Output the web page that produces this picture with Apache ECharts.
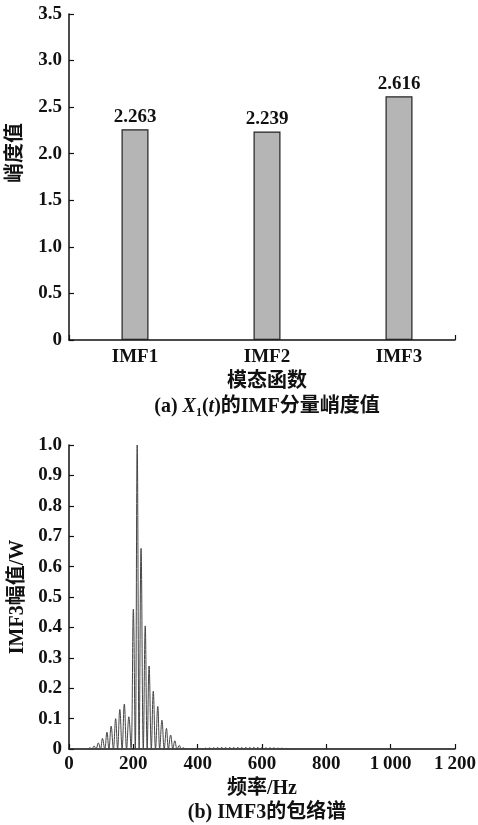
<!DOCTYPE html>
<html>
<head>
<meta charset="utf-8">
<script src="https://cdn.jsdelivr.net/npm/echarts@6/dist/echarts.min.js"></script>
<style>
  html, body { margin: 0; padding: 0; background: #fff; }
  #chart { width: 478px; height: 825px; }
</style>
</head>
<body>
<div id="chart"></div>
<script>
// (a) kurtosis of each IMF component
const imfNames = ['IMF1', 'IMF2', 'IMF3'];
const kurtosis = [2.263, 2.239, 2.616];
const kurtosisTicks = [0, 0.5, 1.0, 1.5, 2.0, 2.5, 3.0, 3.5];

// (b) envelope spectrum of IMF3: peak / trough samples
const freqHz = [
  0, 50, 58, 65, 71, 78, 84, 91, 98, 104, 111, 118, 124, 131, 138, 145, 151, 158, 165, 172,
  179, 186, 193, 200, 206, 212, 218, 224, 231, 237, 243, 249, 256, 262, 269, 276, 282, 289,
  296, 303, 309, 316, 323, 329, 336, 343, 349, 356, 362, 370,
  412, 418, 425, 431, 437, 443, 450, 456, 462, 468, 475, 481, 487, 493, 500, 506, 512, 518,
  525, 531, 537, 543, 550, 556, 562, 568, 575, 581, 587, 593, 600, 606, 612, 618, 625, 631,
  637, 643, 650, 656, 662, 668, 675, 690, 1200
];
const ampW = [
  0, 0, 0, 0.004, 0, 0.010, 0, 0.020, 0, 0.035, 0, 0.055, 0, 0.075, 0, 0.100, 0, 0.130, 0, 0.148,
  0, 0.106, 0, 0.460, 0, 1.000, 0, 0.660, 0, 0.405, 0, 0.273, 0, 0.190, 0, 0.140, 0, 0.095,
  0, 0.068, 0, 0.046, 0, 0.027, 0, 0.012, 0, 0.004, 0, 0,
  0, 0, 0.003, 0, 0.004, 0, 0.004, 0, 0.005, 0, 0.005, 0, 0.005, 0, 0.005, 0, 0.005, 0,
  0.005, 0, 0.005, 0, 0.005, 0, 0.005, 0, 0.005, 0, 0.005, 0, 0.005, 0, 0.004, 0, 0.004, 0,
  0.004, 0, 0.003, 0, 0.003, 0, 0.002, 0, 0
];
const freqTicks = [0, 200, 400, 600, 800, 1000, 1200];
const ampTicks = [0, 0.1, 0.2, 0.3, 0.4, 0.5, 0.6, 0.7, 0.8, 0.9, 1.0];

const FONT = "'Liberation Serif', 'Noto Sans CJK SC', serif";
const AX = '#111';
const tickStyle = { fontFamily: FONT, fontWeight: 'bold', fontSize: 19, color: AX };
const textStyle = { fontFamily: FONT, fontWeight: 'bold', fontSize: 20, color: AX };

function fmtDec(v) { return v === 0 ? '0' : v.toFixed(1); }
function fmtThousands(v) { return String(v).replace(/\B(?=(\d{3})+(?!\d))/g, '\u2009'); }

const chart = echarts.init(document.getElementById('chart'), null, { renderer: 'canvas' });

const axisLineStyle = { show: true, onZero: false, lineStyle: { color: AX, width: 1.5 } };
const innerTick = { show: true, inside: true, length: 5, lineStyle: { color: AX, width: 1.2 } };

chart.setOption({
  animation: false,
  backgroundColor: '#fff',
  grid: [
    { left: 69, right: 13, top: 14, bottom: 485, outerBoundsMode: 'none' },   // bars
    { left: 69, right: 23, top: 14, bottom: 485, outerBoundsMode: 'none' },   // frame of (a)
    { left: 69, right: 23, top: 445, bottom: 76, outerBoundsMode: 'none' }    // spectrum
  ],
  xAxis: [
    {
      gridIndex: 0, type: 'category', data: imfNames,
      axisLine: { show: false }, axisTick: { show: false },
      axisLabel: Object.assign({ margin: 8 }, tickStyle)
    },
    {
      gridIndex: 1, type: 'value', min: 0, max: 1, interval: 1,
      axisLine: axisLineStyle, axisTick: innerTick,
      axisLabel: { show: false }, splitLine: { show: false }
    },
    {
      gridIndex: 2, type: 'value', min: 0, max: 1200, interval: 200,
      name: '频率/Hz', nameLocation: 'middle', nameGap: 30,
      nameTextStyle: textStyle,
      axisLine: axisLineStyle, axisTick: innerTick,
      axisLabel: Object.assign({ margin: 6, formatter: fmtThousands, customValues: freqTicks }, tickStyle),
      splitLine: { show: false }
    }
  ],
  yAxis: [
    {
      gridIndex: 0, type: 'value', min: 0, max: 3.5, interval: 0.5,
      axisLine: axisLineStyle, axisTick: innerTick,
      axisLabel: Object.assign({ margin: 7, formatter: fmtDec, customValues: kurtosisTicks }, tickStyle),
      splitLine: { show: false }
    },
    {
      gridIndex: 1, type: 'value', min: 0, max: 1, show: false
    },
    {
      gridIndex: 2, type: 'value', min: 0, max: 1, interval: 0.1,
      name: 'IMF3幅值/W', nameLocation: 'middle', nameGap: 41, nameRotate: 90,
      nameTextStyle: textStyle,
      axisLine: axisLineStyle, axisTick: innerTick,
      axisLabel: Object.assign({ margin: 7, formatter: fmtDec, customValues: ampTicks }, tickStyle),
      splitLine: { show: false }
    }
  ],
  series: [
    {
      type: 'bar', xAxisIndex: 0, yAxisIndex: 0,
      data: kurtosis, barWidth: 27,
      itemStyle: { color: '#b5b5b5', borderColor: '#222', borderWidth: 1.2 },
      label: {
        show: true, position: 'top', distance: 3,
        formatter: p => p.value.toFixed(3),
        fontFamily: FONT, fontWeight: 'bold', fontSize: 19, color: AX
      }
    },
    {
      type: 'line', xAxisIndex: 2, yAxisIndex: 2,
      data: freqHz.map((f, i) => [f, ampW[i]]),
      showSymbol: false, symbol: 'none', smooth: 0.4, clip: true,
      lineStyle: { color: '#444', width: 1 }
    }
  ],
  title: [
    {
      text: '模态函数', left: 262, top: 367, textAlign: 'center',
      textStyle: textStyle
    },
    {
      text: '{n|(a) }{i|X}{s|1}{n|(}{i|t}{n|)的IMF分量峭度值}',
      left: 262, top: 390, textAlign: 'center',
      textStyle: {
        rich: {
          n: { fontFamily: FONT, fontWeight: 'bold', fontSize: 20, color: AX, lineHeight: 24, verticalAlign: 'middle' },
          i: { fontFamily: FONT, fontWeight: 'bold', fontStyle: 'italic', fontSize: 20, color: AX, lineHeight: 24, verticalAlign: 'middle' },
          s: { fontFamily: FONT, fontWeight: 'bold', fontSize: 12, color: AX, lineHeight: 12, verticalAlign: 'bottom' }
        }
      }
    },
    {
      text: '(b) IMF3的包络谱', left: 262, top: 798, textAlign: 'center',
      textStyle: textStyle
    }
  ],
  graphic: [
    {
      type: 'text', x: 16, y: 153, rotation: Math.PI / 2,
      style: {
        text: '峭度值', align: 'center', verticalAlign: 'middle',
        font: "bold 20px 'Liberation Serif', 'Noto Sans CJK SC', serif", fill: AX
      }
    }
  ]
});
</script>
</body>
</html>
